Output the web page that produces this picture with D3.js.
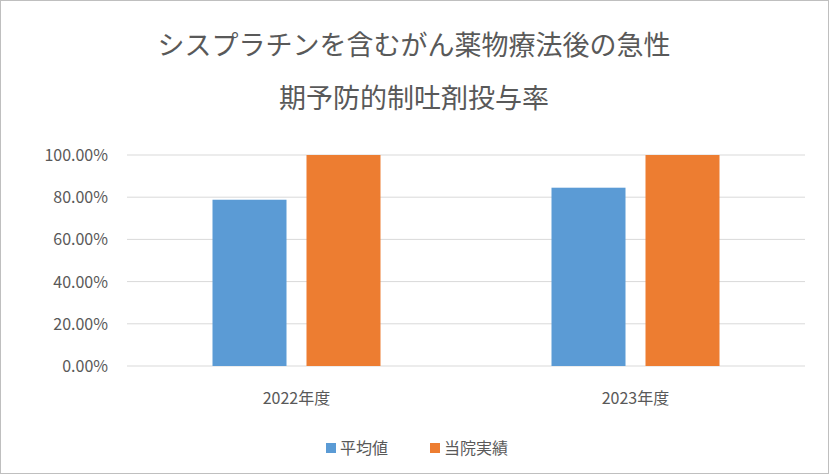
<!doctype html>
<meta charset="utf-8">
<title>chart</title>
<script src="https://cdn.jsdelivr.net/npm/d3@7"></script>
<style>
body { margin: 0; background: #fff; }
text { font-family: "Noto Sans CJK JP", sans-serif; }
</style>
<body>
<svg id="chart" width="829" height="474"></svg>
<script>
var categories = ['2022年度', '2023年度'];
var seriesNames = ['平均値', '当院実績'];
var avgValues = [78.8, 84.5];
var ourValues = [100, 100];
var yTicks = [0, 20, 40, 60, 80, 100];
var colors = ['#5b9bd5', '#ed7d31'];

var svg = d3.select('#chart');
var margin = {left: 127, right: 24, top: 155, bottom: 108};
var W = 829, H = 474;

svg.append('rect').attr('x', 0.5).attr('y', 0.5).attr('width', W - 1).attr('height', H - 1)
  .attr('fill', '#fff').attr('stroke', '#bfbfbf');

svg.append('text').attr('x', 414).attr('y', 55).attr('text-anchor', 'middle')
  .attr('font-size', 27).attr('fill', '#595959').text('シスプラチンを含むがん薬物療法後の急性');
svg.append('text').attr('x', 414).attr('y', 108).attr('text-anchor', 'middle')
  .attr('font-size', 27).attr('fill', '#595959').text('期予防的制吐剤投与率');

var x = d3.scaleBand().domain(categories).range([margin.left, W - margin.right]);
var y = d3.scaleLinear().domain([0, 100]).range([H - margin.bottom, margin.top]);

var g = svg.append('g');
g.selectAll('line.grid').data(yTicks).enter().append('line')
  .attr('x1', margin.left).attr('x2', W - margin.right)
  .attr('y1', function(d) { return y(d); }).attr('y2', function(d) { return y(d); })
  .attr('stroke', '#d9d9d9').attr('stroke-width', 1);

g.selectAll('text.ytick').data(yTicks).enter().append('text')
  .attr('x', 108).attr('y', function(d) { return y(d) + 6; })
  .attr('text-anchor', 'end').attr('font-size', 16).attr('fill', '#595959')
  .text(function(d) { return d.toFixed(2) + '%'; });

var barW = 74, gap = 20;
[avgValues, ourValues].forEach(function(vals, si) {
  g.selectAll('rect.s' + si).data(vals).enter().append('rect')
    .attr('x', function(d, i) {
      var c = x(categories[i]) + x.bandwidth() / 2;
      return si === 0 ? c - gap / 2 - barW : c + gap / 2;
    })
    .attr('y', function(d) { return y(d); })
    .attr('width', barW)
    .attr('height', function(d) { return y(0) - y(d); })
    .attr('fill', colors[si]);
});

g.selectAll('text.xtick').data(categories).enter().append('text')
  .attr('x', function(d) { return x(d) + x.bandwidth() / 2; }).attr('y', 404)
  .attr('text-anchor', 'middle').attr('font-size', 16).attr('fill', '#595959')
  .text(function(d) { return d; });

var lx = [326, 430];
seriesNames.forEach(function(n, i) {
  svg.append('rect').attr('x', lx[i]).attr('y', 443).attr('width', 10).attr('height', 10).attr('fill', colors[i]);
  svg.append('text').attr('x', lx[i] + 14).attr('y', 454).attr('font-size', 16).attr('fill', '#595959').text(n);
});
</script>
</body>
